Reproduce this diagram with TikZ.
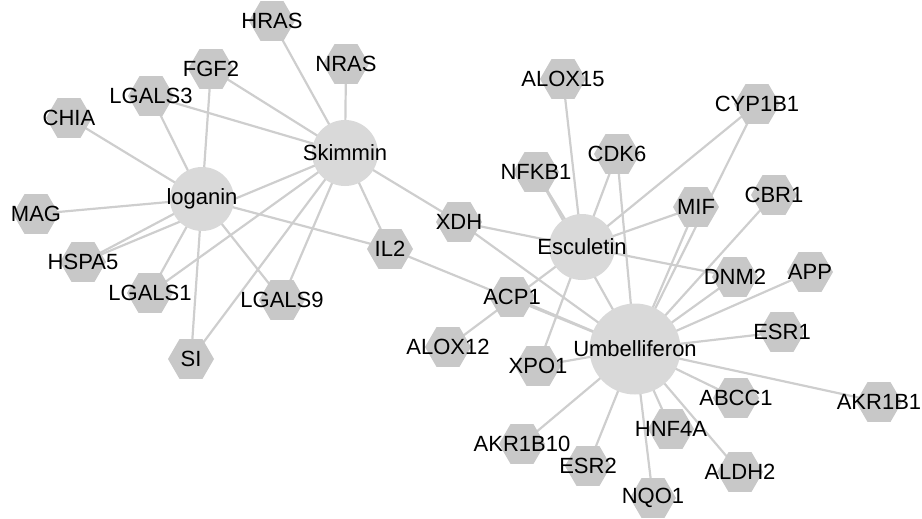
\documentclass[tikz,border=0pt]{standalone}
\usepackage{fontspec}
\setmainfont{Liberation Sans}
\usepackage{xcolor}
\usepackage{tikz}
\usetikzlibrary{shapes.geometric,backgrounds}

\definecolor{hexgray}{RGB}{200,200,200}
\definecolor{cmpgray}{RGB}{217,217,217}
\definecolor{linkgray}{RGB}{206,206,206}

\begin{document}
\begin{tikzpicture}[
    x=1pt, y=-1pt,
    font=\fontsize{22}{26}\selectfont,
    hex/.style = {regular polygon, regular polygon sides=6, minimum size=46pt, inner sep=0pt, fill=hexgray},
    cmp/.style = {circle, fill=cmpgray, inner sep=0pt},
    link/.style = {draw=linkgray, line width=2.2pt}
]
\useasboundingbox (0,0) rectangle (922,519);

% compounds
\node[cmp, minimum size=64pt] (loganin) at (202,199) {\makebox[0pt]{loganin}};
\node[cmp, minimum size=66pt] (Skimmin) at (345,153) {\makebox[0pt]{Skimmin}};
\node[cmp, minimum size=66pt] (Esculetin) at (582,247) {\makebox[0pt]{Esculetin}};
\node[cmp, minimum size=91pt] (Umbelliferon) at (635,349) {\makebox[0pt]{Umbelliferon}};

% targets
\node[hex] (HRAS) at (272,21) {\makebox[0pt]{HRAS}};
\node[hex] (NRAS) at (346,64) {\makebox[0pt]{NRAS}};
\node[hex] (FGF2) at (211,69) {\makebox[0pt]{FGF2}};
\node[hex] (LGALS3) at (151,96) {\makebox[0pt]{LGALS3}};
\node[hex] (CHIA) at (69,118) {\makebox[0pt]{CHIA}};
\node[hex] (MAG) at (36,214) {\makebox[0pt]{MAG}};
\node[hex] (HSPA5) at (83,262) {\makebox[0pt]{HSPA5}};
\node[hex] (LGALS1) at (150,293) {\makebox[0pt]{LGALS1}};
\node[hex] (LGALS9) at (282,300) {\makebox[0pt]{LGALS9}};
\node[hex] (SI) at (191,359) {\makebox[0pt]{SI}};
\node[hex] (IL2) at (390,249) {\makebox[0pt]{IL2}};
\node[hex] (XDH) at (459,222) {\makebox[0pt]{XDH}};
\node[hex] (ACP1) at (512,297) {\makebox[0pt]{ACP1}};
\node[hex] (ALOX12) at (448,347) {\makebox[0pt]{ALOX12}};
\node[hex] (XPO1) at (538,366) {\makebox[0pt]{XPO1}};
\node[hex] (NFKB1) at (536,172) {\makebox[0pt]{NFKB1}};
\node[hex] (ALOX15) at (563,79) {\makebox[0pt]{ALOX15}};
\node[hex] (CDK6) at (617,154) {\makebox[0pt]{CDK6}};
\node[hex] (CYP1B1) at (757,104) {\makebox[0pt]{CYP1B1}};
\node[hex] (MIF) at (696,207) {\makebox[0pt]{MIF}};
\node[hex] (CBR1) at (774,195) {\makebox[0pt]{CBR1}};
\node[hex] (DNM2) at (735,277) {\makebox[0pt]{DNM2}};
\node[hex] (APP) at (810,272) {\makebox[0pt]{APP}};
\node[hex] (ESR1) at (782,332) {\makebox[0pt]{ESR1}};
\node[hex] (AKR1B1) at (879,402) {\makebox[0pt]{AKR1B1}};
\node[hex] (ABCC1) at (736,398) {\makebox[0pt]{ABCC1}};
\node[hex] (ALDH2) at (740,472) {\makebox[0pt]{ALDH2}};
\node[hex] (HNF4A) at (671,429) {\makebox[0pt]{HNF4A}};
\node[hex] (NQO1) at (653,498) {\makebox[0pt]{NQO1}};
\node[hex] (ESR2) at (588,466) {\makebox[0pt]{ESR2}};
\node[hex] (AKR1B10) at (522,444) {\makebox[0pt]{AKR1B10}};

\begin{scope}[on background layer]
% loganin
\draw[link] (loganin.center) -- (CHIA.center);
\draw[link] (loganin.center) -- (LGALS3.center);
\draw[link] (loganin.center) -- (FGF2.center);
\draw[link] (loganin.center) -- (MAG.center);
\draw[link] (loganin.center) -- (HSPA5.center);
\draw[link] (loganin.center) -- (LGALS1.center);
\draw[link] (loganin.center) -- (SI.center);
\draw[link] (loganin.center) -- (LGALS9.center);
\draw[link] (loganin.center) -- (IL2.center);

% Skimmin
\draw[link] (Skimmin.center) -- (HRAS.center);
\draw[link] (Skimmin.center) -- (NRAS.center);
\draw[link] (Skimmin.center) -- (FGF2.center);
\draw[link] (Skimmin.center) -- (LGALS3.center);
\draw[link] (Skimmin.center) -- (HSPA5.center);
\draw[link] (Skimmin.center) -- (LGALS1.center);
\draw[link] (Skimmin.center) -- (SI.center);
\draw[link] (Skimmin.center) -- (LGALS9.center);
\draw[link] (Skimmin.center) -- (IL2.center);
\draw[link] (Skimmin.center) -- (XDH.center);

% Esculetin
\draw[link] (Esculetin.center) -- (NFKB1.center);
\draw[link] (Esculetin.center) -- (ALOX15.center);
\draw[link] (Esculetin.center) -- (CDK6.center);
\draw[link] (Esculetin.center) -- (CYP1B1.center);
\draw[link] (Esculetin.center) -- (MIF.center);
\draw[link] (Esculetin.center) -- (XDH.center);
\draw[link] (Esculetin.center) -- (DNM2.center);
\draw[link] (Esculetin.center) -- (ALOX12.center);
\draw[link] (Esculetin.center) -- (XPO1.center);

% Umbelliferon
\draw[link] (Umbelliferon.center) -- (NFKB1.center);
\draw[link] (Umbelliferon.center) -- (CDK6.center);
\draw[link] (Umbelliferon.center) -- (CYP1B1.center);
\draw[link] (Umbelliferon.center) -- (MIF.center);
\draw[link] (Umbelliferon.center) -- (CBR1.center);
\draw[link] (Umbelliferon.center) -- (DNM2.center);
\draw[link] (Umbelliferon.center) -- (APP.center);
\draw[link] (Umbelliferon.center) -- (ESR1.center);
\draw[link] (Umbelliferon.center) -- (AKR1B1.center);
\draw[link] (Umbelliferon.center) -- (ABCC1.center);
\draw[link] (Umbelliferon.center) -- (ALDH2.center);
\draw[link] (Umbelliferon.center) -- (HNF4A.center);
\draw[link] (Umbelliferon.center) -- (NQO1.center);
\draw[link] (Umbelliferon.center) -- (ESR2.center);
\draw[link] (Umbelliferon.center) -- (AKR1B10.center);
\draw[link] (Umbelliferon.center) -- (XPO1.center);
\draw[link] (Umbelliferon.center) -- (ACP1.center);
\draw[link] (Umbelliferon.center) -- (IL2.center);
\draw[link] (Umbelliferon.center) -- (XDH.center);
\end{scope}

\end{tikzpicture}
\end{document}
